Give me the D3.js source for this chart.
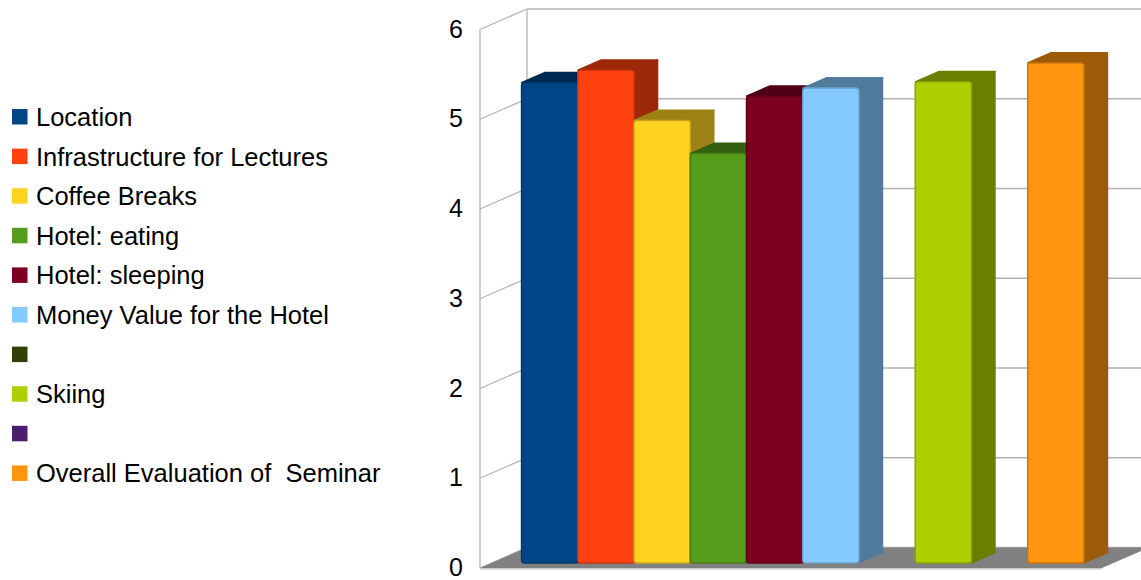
<!DOCTYPE html>
<html>
<head>
<meta charset="utf-8">
<script src="https://cdn.jsdelivr.net/npm/d3@7"></script>
<style>
  html, body { margin: 0; padding: 0; background: #fff; }
  svg { display: block; font-family: "Liberation Sans", Arial, sans-serif; }
  text { white-space: pre; }
</style>
</head>
<body>
<div id="chart"></div>
<script>
// series (one category, one bar each)
var series = ["Location", "Infrastructure for Lectures", "Coffee Breaks", "Hotel: eating",
  "Hotel: sleeping", "Money Value for the Hotel", "", "Skiing", "", "Overall Evaluation of  Seminar"];
var values = [5.35, 5.49, 4.93, 4.56, 5.20, 5.29, null, 5.36, null, 5.57];
var colors = ["#004586", "#ff420e", "#ffd320", "#579d1c", "#7e0021", "#83caff",
  "#314004", "#aecf00", "#4b1f6f", "#ff950e"];
var yTicks = [0, 1, 2, 3, 4, 5, 6];

var W = 1141, H = 580;
var depth = {dx: 47, dy: -20.5};     // wall depth in screen px
var barZ = [0.25, 0.75];             // bar front/back as fraction of depth

var svg = d3.select("#chart").append("svg").attr("width", W).attr("height", H);

var y = d3.scaleLinear().domain([0, 6]).range([568, 29.5]);
var x = d3.scaleBand().domain(d3.range(series.length)).range([480, 1102])
  .paddingInner(0).paddingOuter(0.53);

function p(px, py, z) { return [px + z * depth.dx, py + z * depth.dy]; }
function poly(pts) { return "M" + pts.map(function (d) { return d[0] + "," + d[1]; }).join("L") + "Z"; }

var grid = "#b3b3b3";
var g = svg.append("g");

// walls + gridlines
yTicks.forEach(function (t) {
  var a = p(480, y(t), 0), b = p(480, y(t), 1);
  g.append("line").attr("x1", a[0]).attr("y1", a[1]).attr("x2", b[0]).attr("y2", b[1])
    .attr("stroke", grid).attr("stroke-width", 1.3);
  g.append("line").attr("x1", b[0]).attr("y1", b[1]).attr("x2", W + 10).attr("y2", b[1])
    .attr("stroke", grid).attr("stroke-width", 1.3);
});
g.append("line").attr("x1", 480).attr("y1", y(0)).attr("x2", 480).attr("y2", y(6))
  .attr("stroke", grid).attr("stroke-width", 1.3);
var bw = p(480, y(0), 1), tw = p(480, y(6), 1);
g.append("line").attr("x1", bw[0]).attr("y1", bw[1]).attr("x2", tw[0]).attr("y2", tw[1])
  .attr("stroke", grid).attr("stroke-width", 1.3);

// floor
var x0 = x.range()[0], x1 = x.range()[1];
g.append("path").attr("d", poly([p(x0, y(0), 0), p(x1, y(0), 0), p(x1, y(0), 1), p(x0, y(0), 1)]))
  .attr("fill", "#808080");
g.append("line").attr("x1", x0).attr("y1", y(0) + 0.8).attr("x2", x1).attr("y2", y(0) + 0.8)
  .attr("stroke", "#c8c8c8").attr("stroke-width", 1.5);

// tick labels
svg.append("g").selectAll("text").data(yTicks).enter().append("text")
  .attr("x", 463).attr("y", function (d) { return y(d) + 8; })
  .attr("text-anchor", "end").attr("font-size", "25px").attr("fill", "#000")
  .text(function (d) { return d; });

// bars, left to right so the next bar hides the previous side
var bars = svg.append("g");
series.forEach(function (s, i) {
  var v = values[i];
  if (v == null) return;
  var c = d3.color(colors[i]);
  var dark = d3.rgb(c.r * 0.61, c.g * 0.61, c.b * 0.61);
  var bx0 = x(i), bx1 = x(i) + x.bandwidth();
  var ft = p(bx0, y(v), barZ[0]), fr = p(bx1, y(v), barZ[0]), frb = p(bx1, y(0), barZ[0]);
  var bt = p(bx0, y(v), barZ[1]), br = p(bx1, y(v), barZ[1]), brb = p(bx1, y(0), barZ[1]);
  var fb = p(bx0, y(0), barZ[0]);
  // top
  bars.append("path").attr("d", poly([ft, fr, br, bt]))
    .attr("fill", dark).attr("stroke", dark).attr("stroke-width", 1.5).attr("stroke-linejoin", "round");
  // side
  bars.append("path").attr("d", poly([fr, br, brb, frb]))
    .attr("fill", dark).attr("stroke", dark).attr("stroke-width", 1.5).attr("stroke-linejoin", "round");
  // front
  bars.append("rect").attr("x", ft[0]).attr("y", ft[1])
    .attr("width", fr[0] - ft[0]).attr("height", fb[1] - ft[1]).attr("rx", 3)
    .attr("fill", c.formatHex())
    .attr("stroke", d3.rgb(c.r * 0.8, c.g * 0.8, c.b * 0.8)).attr("stroke-width", 1.5);
});

// legend
var leg = svg.append("g").selectAll("g").data(series).enter().append("g")
  .attr("transform", function (d, i) { return "translate(12," + (117 + i * 39.6) + ")"; });
leg.append("rect").attr("x", 0).attr("y", -8).attr("width", 15.5).attr("height", 15.5)
  .attr("fill", function (d, i) { return colors[i]; });
leg.append("text").attr("x", 24).attr("y", 9)
  .attr("font-size", "25.5px").attr("fill", "#000")
  .text(function (d) { return d; });
</script>
</body>
</html>
